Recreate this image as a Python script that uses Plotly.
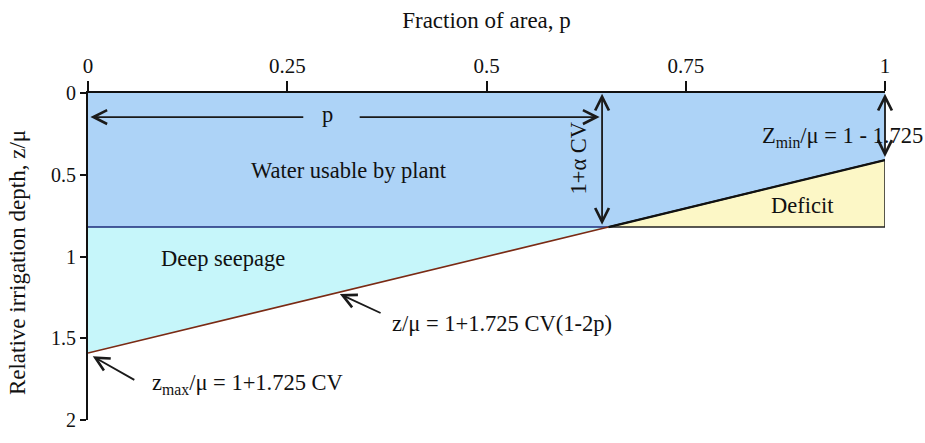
import plotly.graph_objects as go

# Data
x_ticks = [0, 0.25, 0.5, 0.75, 1]
x_ticklabels = ["0", "0.25", "0.5", "0.75", "1"]
y_ticks = [0, 0.5, 1, 1.5, 2]
y_ticklabels = ["0", "0.5", "1", "1.5", "2"]

# distribution line z/mu vs p
line_p = [0, 0.653, 1]
line_z = [1.59, 0.82, 0.41]

# regions
usable_p = [0, 1, 1, 0, 0]
usable_z = [0, 0, 0.82, 0.82, 0]
seepage_p = [0, 0.653, 0, 0]
seepage_z = [0.82, 0.82, 1.59, 0.82]
deficit_p = [0.653, 1, 1, 0.653]
deficit_z = [0.82, 0.41, 0.82, 0.82]
flat_p = [0, 0.653]
flat_z = [0.82, 0.82]

FONT = "Liberation Serif"

fig = go.Figure()
fig.add_trace(go.Scatter(x=usable_p, y=usable_z, fill="toself", fillcolor="#add3f7",
                         mode="lines", line=dict(width=0), hoverinfo="skip"))
fig.add_trace(go.Scatter(x=seepage_p, y=seepage_z, fill="toself", fillcolor="#c6f6fa",
                         mode="lines", line=dict(width=0), hoverinfo="skip"))
fig.add_trace(go.Scatter(x=deficit_p, y=deficit_z, fill="toself", fillcolor="#fcf7c6",
                         mode="lines", line=dict(color="#222222", width=1.5), hoverinfo="skip"))
fig.add_trace(go.Scatter(x=flat_p, y=flat_z, mode="lines",
                         line=dict(color="#1c2a7a", width=1.5), hoverinfo="skip"))
fig.add_trace(go.Scatter(x=line_p[:2], y=line_z[:2], mode="lines",
                         line=dict(color="#7a2a14", width=1.6), hoverinfo="skip"))
fig.add_trace(go.Scatter(x=line_p[1:], y=line_z[1:], mode="lines",
                         line=dict(color="#111111", width=2.2), hoverinfo="skip"))

ann = []
def arrow(x, y, ax, ay, both=False):
    ann.append(dict(x=x, y=y, ax=ax, ay=ay, xref="x", yref="y", axref="x", ayref="y",
                    text="", showarrow=True, arrowhead=5, startarrowhead=5,
                    arrowsize=1.5, startarrowsize=1.5, arrowwidth=1.8, arrowcolor="#1a1a1a",
                    arrowside="end+start" if both else "end"))

def label(x, y, text, xanchor="center", angle=0, size=22.5, xref="x", yref="y"):
    ann.append(dict(x=x, y=y, xref=xref, yref=yref, text=text, showarrow=False,
                    xanchor=xanchor, yanchor="middle", textangle=angle,
                    font=dict(family=FONT, size=size, color="#111111")))

# p arrow
arrow(0.003, 0.147, 0.272, 0.147)
arrow(0.642, 0.147, 0.339, 0.147)
label(0.30, 0.13, "p")
# 1+alpha CV arrow
arrow(0.645, 0.005, 0.645, 0.815, both=True)
label(0.615, 0.4, "1+α CV", angle=-90)
# Zmin arrow
arrow(1.0, 0.005, 1.0, 0.4, both=True)
label(1.05, 0.27, "Z<sub>min</sub>/μ = 1 - 1.725", xanchor="right", xref="paper")
# region labels
label(0.327, 0.476, "Water usable by plant")
label(0.17, 1.01, "Deep seepage")
label(0.896, 0.69, "Deficit")
# line label
arrow(0.316, 1.23, 0.369, 1.35)
label(0.379, 1.41, "z/μ = 1+1.725 CV(1-2p)", xanchor="left")
arrow(0.006, 1.61, 0.06, 1.76)
label(0.078, 1.78, "z<sub>max</sub>/μ = 1+1.725 CV", xanchor="left")
# y axis title
label(-0.089, 0.48, "Relative irrigation depth, z/μ", angle=-90, size=23, xref="paper", yref="paper")

fig.update_layout(
    width=925, height=443,
    margin=dict(l=88, r=40, t=93, b=12),
    paper_bgcolor="white", plot_bgcolor="white",
    showlegend=False,
    font=dict(family=FONT, size=21, color="#111111"),
    annotations=ann,
    xaxis=dict(side="top", range=[0, 1], tickvals=x_ticks, ticktext=x_ticklabels,
               showgrid=False, zeroline=False, showline=True, linecolor="#111111", linewidth=2,
               ticks="outside", ticklen=10, tickwidth=1.5, tickcolor="#111111",
               title=dict(text="Fraction of area, p", standoff=19, font=dict(size=23)),
               tickfont=dict(size=21)),
    yaxis=dict(range=[2, 0], tickvals=y_ticks, ticktext=y_ticklabels,
               showgrid=False, zeroline=False, showline=True, linecolor="#111111", linewidth=2,
               ticks="outside", ticklen=6, tickwidth=1.5, tickcolor="#111111",
               tickfont=dict(size=20)),
)

fig.write_html("out.html")
